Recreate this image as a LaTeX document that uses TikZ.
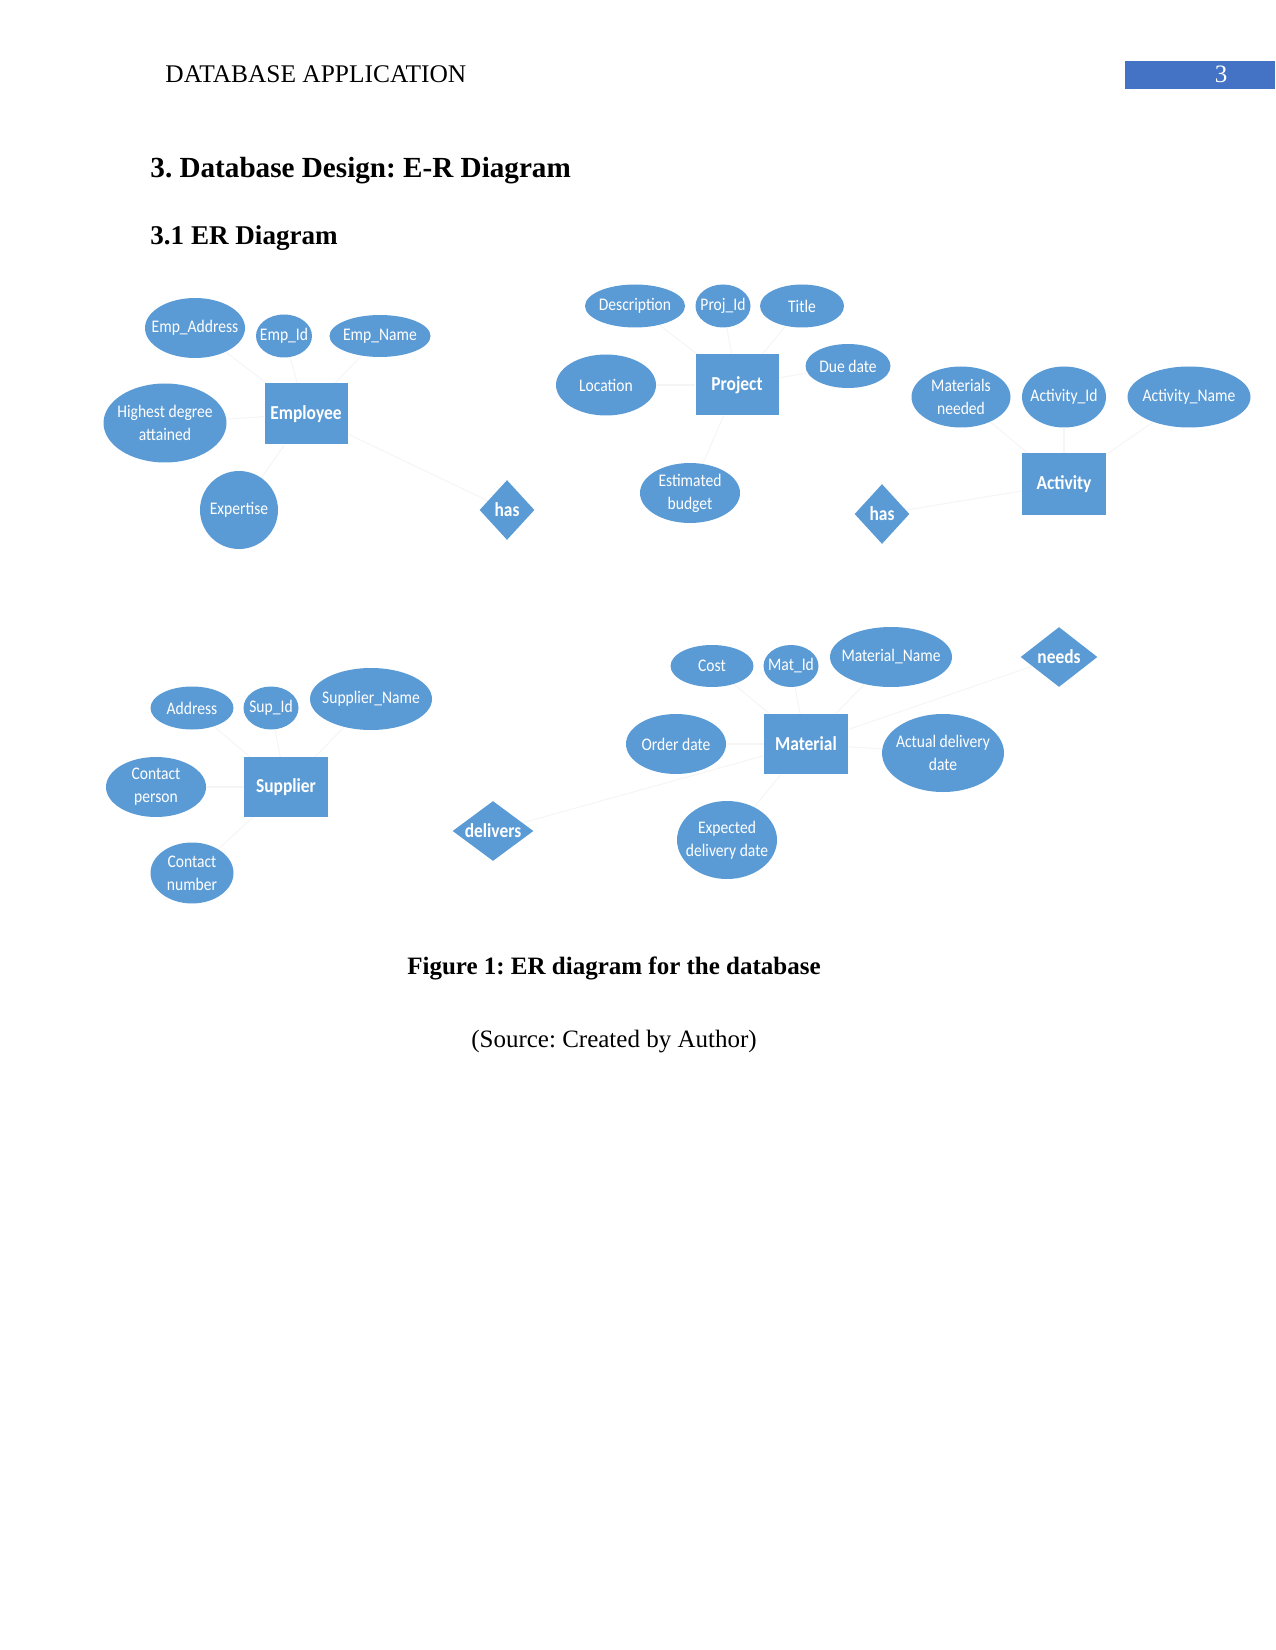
\documentclass[tikz,border=0pt]{standalone}
\usepackage{fontspec}
\setmainfont{Liberation Serif}
\newfontfamily\erfont[FakeStretch=0.88]{Carlito}
\usepackage{tikz}
\usetikzlibrary{shapes.geometric, backgrounds}
\frenchspacing
\definecolor{ERBlue}{RGB}{91,155,213}
\definecolor{PageBlue}{RGB}{68,114,196}
\tikzset{
  sz/.style 2 args={minimum width=#1*0.48pt, minimum height=#2*0.48pt},
  attr/.style={ellipse, fill=ERBlue, text=white, inner sep=-20pt, align=center,
    font=\erfont\fontsize{8.5}{11}\selectfont},
  entity/.style={rectangle, fill=ERBlue, text=white, inner sep=0pt,
    font=\erfont\bfseries\fontsize{9.5}{11}\selectfont},
  rel/.style={diamond, fill=ERBlue, text=white, inner sep=-20pt,
    font=\erfont\bfseries\fontsize{9.5}{11}\selectfont},
  conn/.style={draw=black!4, line width=0.5pt}
}

\begin{document}
\begin{tikzpicture}[x=0.48pt, y=-0.48pt]
\useasboundingbox (0,0) rectangle (1275,1650);

% page head
\node[anchor=base west, inner sep=0pt, font=\fontsize{12.2}{14}\selectfont] (runhead) at (165,83) {DATABASE APPLICATION};
\fill[PageBlue] (1125,61) rectangle (1275,89);
\node[anchor=base, inner sep=0pt, text=white, font=\fontsize{12}{14}\selectfont] (pagenum) at (1221,83) {3};
\node[anchor=base west, inner sep=0pt, font=\bfseries\fontsize{14}{17}\selectfont] (sechead) at (150,178) {3. Database Design: E-R Diagram};
\node[anchor=base west, inner sep=0pt, font=\bfseries\fontsize{13}{15}\selectfont] (subhead) at (150,245) {3.1 ER Diagram};

% employee
\node[attr, sz={100}{60}] (empaddr) at (195,328) {Emp\_Address};
\node[attr, sz={56}{43}] (empid) at (284,336) {Emp\_Id};
\node[attr, sz={101}{42}] (empname) at (380,336) {Emp\_Name};
\node[attr, sz={123}{79}] (degree) at (165,423) {Highest degree\\attained};
\node[entity, sz={83}{61}] (employee) at (306,414) {Employee};
\node[attr, sz={78}{78}] (expertise) at (239,510) {Expertise};
\node[rel, sz={55}{60}] (hasone) at (507,510) {has};

% project
\node[attr, sz={100}{43}] (descr) at (635,306) {Description};
\node[attr, sz={55}{43}] (projid) at (723,306) {Proj\_Id};
\node[attr, sz={84}{43}] (title) at (802,306) {Title};
\node[attr, sz={100}{61}] (location) at (606,385) {Location};
\node[entity, sz={83}{61}] (project) at (737,385) {Project};
\node[attr, sz={85}{44}] (duedate) at (848,366) {Due date};
\node[attr, sz={100}{60}] (budget) at (690,493) {Estimated\\budget};
\node[rel, sz={55}{60}] (hastwo) at (882,514) {has};

% activity
\node[attr, sz={99}{61}] (matneeded) at (961,397) {Materials\\needed};
\node[attr, sz={84}{61}] (actid) at (1064,397) {Activity\_Id};
\node[attr, sz={123}{61}] (actname) at (1189,397) {Activity\_Name};
\node[entity, sz={84}{61}] (activity) at (1064,484) {Activity};

% supplier
\node[attr, sz={83}{43}] (address) at (192,708) {Address};
\node[attr, sz={55}{43}] (supid) at (271,708) {Sup\_Id};
\node[attr, sz={122}{62}] (supname) at (371,699) {Supplier\_Name};
\node[attr, sz={100}{60}] (contact) at (156,787) {Contact\\person};
\node[entity, sz={84}{60}] (supplier) at (286,787) {Supplier};
\node[attr, sz={83}{61}] (contactno) at (192,873) {Contact\\number};
\node[rel, sz={81}{60}] (delivers) at (493,831) {delivers};

% material
\node[attr, sz={83}{42}] (cost) at (712,666) {Cost};
\node[attr, sz={55}{42}] (matid) at (791,666) {Mat\_Id};
\node[attr, sz={122}{60}] (matname) at (891,657) {Material\_Name};
\node[rel, sz={77}{60}] (needs) at (1059,657) {needs};
\node[attr, sz={100}{60}] (orderdate) at (676,744) {Order date};
\node[entity, sz={84}{60}] (material) at (806,744) {Material};
\node[attr, sz={122}{78}] (actual) at (943,753) {Actual delivery\\date};
\node[attr, sz={100}{78}] (expected) at (727,840) {Expected\\delivery date};

% faint connectors
\begin{scope}[on background layer]
\foreach \a in {empaddr, empid, empname, degree, expertise}
  \draw[conn] (\a) -- (employee);
\foreach \a in {descr, projid, title, location, duedate, budget}
  \draw[conn] (\a) -- (project);
\foreach \a in {matneeded, actid, actname}
  \draw[conn] (\a) -- (activity);
\foreach \a in {address, supid, supname, contact, contactno}
  \draw[conn] (\a) -- (supplier);
\foreach \a in {cost, matid, matname, orderdate, actual, expected}
  \draw[conn] (\a) -- (material);
\draw[conn] (employee) -- (hasone);
\draw[conn] (hastwo) -- (activity);
\draw[conn] (needs) -- (material);
\draw[conn] (delivers) -- (material);
\end{scope}

% caption
\node[anchor=base, font=\bfseries\fontsize{12}{14}\selectfont] (caption) at (614,974) {Figure 1: ER diagram for the database};
\node[anchor=base, font=\fontsize{12}{14}\selectfont] (source) at (614,1047) {(Source: Created by Author)};
\end{tikzpicture}
\end{document}
